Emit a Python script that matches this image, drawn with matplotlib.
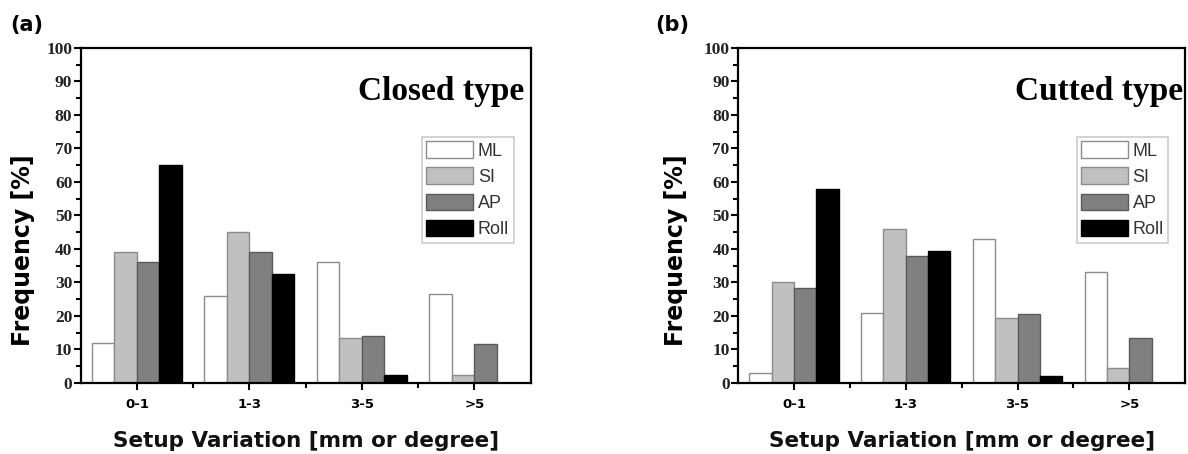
import numpy as np
from matplotlib import pyplot as plt
from matplotlib.ticker import MultipleLocator, FixedLocator

groups = ['0-1', '1-3', '3-5', '>5']
series = ['ML', 'SI', 'AP', 'Roll']

# frequency [%] per series
closed_ml = [12, 26, 36, 26.5]
closed_si = [39, 45, 13.5, 2.5]
closed_ap = [36, 39, 14, 11.5]
closed_roll = [65, 32.5, 2.5, 0]

cutted_ml = [3, 21, 43, 33]
cutted_si = [30, 46, 19.5, 4.5]
cutted_ap = [28.5, 38, 20.5, 13.5]
cutted_roll = [58, 39.5, 2, 0]

fills = ['white', '#c0c0c0', '#808080', 'black']
edges = ['#8c8c8c', '#8c8c8c', '#5a5a5a', 'black']

serif = ['Liberation Serif', 'DejaVu Serif']
sans = ['DejaVu Sans']

fig = plt.figure(figsize=(11.88, 4.54), dpi=100)


def drawPanel(rect, data, title, title_x):
    ax = fig.add_axes(rect)
    x = np.arange(len(groups))
    w = 0.2
    for i, vals in enumerate(data):
        ax.bar(x + (i - 1.5) * w, vals, w, color=fills[i], edgecolor=edges[i],
               linewidth=1.0, label=series[i], zorder=2)

    ax.set_xlim(-0.5, 3.5)
    ax.set_ylim(0, 100)
    ax.set_xticks(x)
    ax.set_xticklabels(groups, fontfamily=sans, fontweight='bold', fontsize=9.5)
    ax.xaxis.set_minor_locator(FixedLocator([0.5, 1.5, 2.5]))
    ax.yaxis.set_major_locator(MultipleLocator(10))
    ax.yaxis.set_minor_locator(MultipleLocator(5))
    for lab in ax.get_yticklabels():
        lab.set_fontfamily(serif)
        lab.set_fontweight('bold')
        lab.set_fontsize(12.5)
        lab.set_color('#222222')

    ax.tick_params(which='major', direction='out', length=5, width=1.5, pad=3)
    ax.tick_params(which='minor', direction='out', length=3.5, width=1.5)
    ax.tick_params(axis='y', which='major', pad=1)
    ax.tick_params(axis='x', which='major', pad=6)
    for s in ax.spines.values():
        s.set_linewidth(1.6)
        s.set_zorder(3)

    ax.set_xlabel('Setup Variation [mm or degree]', fontfamily=sans,
                  fontweight='bold', fontsize=15.5, labelpad=14, color='#111111')

    ax.text(title_x, 0.845, title, transform=ax.transAxes, ha='right',
            va='baseline', fontfamily=serif, fontweight='bold', fontsize=24)

    leg = ax.legend(loc='upper right', bbox_to_anchor=(0.962, 0.735),
                    borderaxespad=0, fancybox=False, framealpha=1,
                    prop={'family': ['Liberation Sans', 'DejaVu Sans'], 'size': 13},
                    handlelength=2.6, handleheight=1.05, handletextpad=0.25,
                    labelspacing=0.42, borderpad=0.25, labelcolor='#333333')
    leg.get_frame().set_edgecolor('#cccccc')
    leg.get_frame().set_linewidth(1.2)
    return ax


ax1 = drawPanel([0.0679, 0.1564, 0.3788, 0.7379],
                [closed_ml, closed_si, closed_ap, closed_roll], 'Closed type', 0.985)
ax2 = drawPanel([0.6212, 0.1564, 0.3765, 0.7379],
                [cutted_ml, cutted_si, cutted_ap, cutted_roll], 'Cutted type', 0.995)

fig.text(23 / 1188, 1 - 250 / 454, 'Frequency [%]', rotation=90,
         ha='center', va='center', fontfamily=sans, fontweight='bold', fontsize=17)
fig.text(676 / 1188, 1 - 250 / 454, 'Frequency [%]', rotation=90,
         ha='center', va='center', fontfamily=sans, fontweight='bold', fontsize=17)

fig.text(10 / 1188, 1 - 25 / 454, '(a)', ha='left', va='center',
         fontfamily=sans, fontweight='bold', fontsize=15)
fig.text(655 / 1188, 1 - 25 / 454, '(b)', ha='left', va='center',
         fontfamily=sans, fontweight='bold', fontsize=15)

fig.savefig('out.png', dpi=100)
